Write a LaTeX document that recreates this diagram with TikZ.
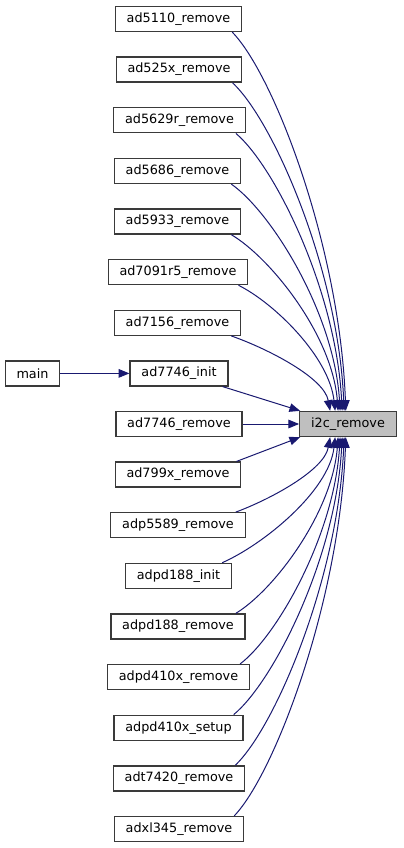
\documentclass[tikz,border=0pt]{standalone}
\usepackage{fontspec}
\setmainfont{DejaVu Sans}
\usetikzlibrary{arrows.meta}
\definecolor{edgeblue}{HTML}{191970}
\definecolor{boxline}{HTML}{3A3A3A}
\definecolor{focusfill}{HTML}{BFBFBF}
\begin{document}
\begin{tikzpicture}[x=0.75pt,y=-0.75pt,
  fn/.style={draw=boxline,line width=1pt,fill=white,inner xsep=8.5pt,inner ysep=0pt,
    minimum height=18.75pt,font=\fontsize{9.6}{11}\selectfont,text=black},
  focus/.style={fn,fill=focusfill},
  edge/.style={draw=edgeblue,line width=0.75pt,-{Triangle[length=8pt,width=6.4pt]}}]
\useasboundingbox (0,0) rectangle (403,848);
% callers of i2c_remove
\node[fn] (r1)  at (178.5,19)    {ad5110\_remove};
\node[fn] (r2)  at (179,69.6)    {ad525x\_remove};
\node[fn] (r3)  at (179.5,120.25){ad5629r\_remove};
\node[fn] (r4)  at (177.5,170.9) {ad5686\_remove};
\node[fn] (r5)  at (177.5,221.5) {ad5933\_remove};
\node[fn] (r6)  at (178,272.1)   {ad7091r5\_remove};
\node[fn] (r7)  at (177.5,322.75){ad7156\_remove};
\node[fn] (r8)  at (179,373.4)   {ad7746\_init};
\node[fn] (r9)  at (179,424)     {ad7746\_remove};
\node[fn] (r10) at (178,474.6)   {ad799x\_remove};
\node[fn] (r11) at (178,525.25)  {adp5589\_remove};
\node[fn] (r12) at (178.5,575.9) {adpd188\_init};
\node[fn] (r13) at (178,626.5)   {adpd188\_remove};
\node[fn] (r14) at (178.5,677.1) {adpd410x\_remove};
\node[fn] (r15) at (178.5,727.75){adpd410x\_setup};
\node[fn] (r16) at (179,778.4)   {adt7420\_remove};
\node[fn] (r17) at (179,829)     {adxl345\_remove};
\node[fn] (main) at (32.5,373.4) {main};
\node[focus] (i2c) at (348,424)  {i2c\_remove};
% main calls ad7746_init
\draw[edge] (main.east) -- (r8.west);
% upper callers enter from the top
\draw[edge] ([xshift=-7.5pt]r1.south east) .. controls +(42,43) and +(-6,-163) .. ([xshift=35pt]i2c.north west);
\draw[edge] ([xshift=-7.5pt]r2.south east) .. controls +(41,38) and +(-6,-141) .. ([xshift=33.75pt]i2c.north west);
\draw[edge] ([xshift=-7.5pt]r3.south east) .. controls +(39,33) and +(-6,-120) .. ([xshift=32.25pt]i2c.north west);
\draw[edge] ([xshift=-7.5pt]r4.south east) .. controls +(40,28) and +(-6,-98) .. ([xshift=30.75pt]i2c.north west);
\draw[edge] ([xshift=-7.5pt]r5.south east) .. controls +(39,23) and +(-6,-76) .. ([xshift=29.25pt]i2c.north west);
\draw[edge] ([xshift=-7.5pt]r6.south east) .. controls +(36,18) and +(-6,-54) .. ([xshift=27pt]i2c.north west);
\draw[edge] ([xshift=-7.5pt]r7.south east) .. controls +(37,13) and +(-6,-33) .. ([xshift=23.25pt]i2c.north west);
\draw[edge] ([xshift=-4.5pt]r8.south east) -- ([xshift=0.75pt]i2c.north west);
\draw[edge] (r9.east) -- (i2c.west);
\draw[edge] ([xshift=-3.75pt]r10.north east) -- ([xshift=0.75pt]i2c.south west);
% lower callers enter from the bottom
\draw[edge] ([xshift=-7.5pt]r11.north east) .. controls +(35,-13) and +(-6,33) .. ([xshift=23.25pt]i2c.south west);
\draw[edge] ([xshift=-7.5pt]r12.north east) .. controls +(41,-18) and +(-6,54) .. ([xshift=27pt]i2c.south west);
\draw[edge] ([xshift=-7.5pt]r13.north east) .. controls +(38,-23) and +(-6,76) .. ([xshift=29.25pt]i2c.south west);
\draw[edge] ([xshift=-7.5pt]r14.north east) .. controls +(37,-28) and +(-6,98) .. ([xshift=30.75pt]i2c.south west);
\draw[edge] ([xshift=-7.5pt]r15.north east) .. controls +(40,-33) and +(-6,120) .. ([xshift=32.25pt]i2c.south west);
\draw[edge] ([xshift=-7.5pt]r16.north east) .. controls +(40,-38) and +(-6,141) .. ([xshift=33.75pt]i2c.south west);
\draw[edge] ([xshift=-7.5pt]r17.north east) .. controls +(41,-43) and +(-6,163) .. ([xshift=35pt]i2c.south west);
\end{tikzpicture}
\end{document}
